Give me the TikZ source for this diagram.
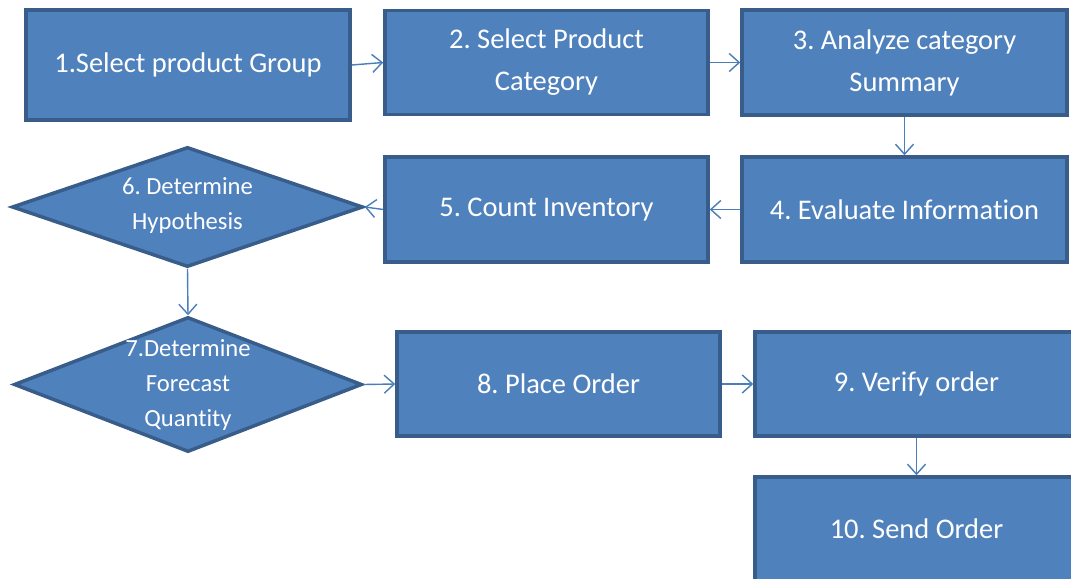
\documentclass[tikz,border=0pt]{standalone}
\usepackage{fontspec}
\setmainfont{Carlito}[Ligatures=NoCommon]
\usetikzlibrary{arrows.meta}
\usetikzlibrary{shapes.geometric}
\tikzset{>={Straight Barb[length=2mm,width=3.6mm]}}
\definecolor{flowblue}{RGB}{79,129,189}
\definecolor{flowedge}{RGB}{56,93,138}
\definecolor{flowarrow}{RGB}{74,126,187}
\tikzstyle{stepbox}=[rectangle,draw=flowedge,fill=flowblue,line width=2pt,minimum width=6.46cm,minimum height=2.08cm,inner sep=0pt,text=white,align=center,font=\fontsize{16.2}{23.9}\selectfont]
\tikzstyle{decision}=[diamond,draw=flowedge,fill=flowblue,line width=2pt,inner sep=0pt]
\tikzstyle{decisiontext}=[text=white,align=center,font=\fontsize{14}{19.9}\selectfont]
\tikzstyle{flowline}=[draw=flowarrow,line width=0.8pt,->]
\frenchspacing

\begin{document}
\begin{tikzpicture}
    \useasboundingbox (0,0) rectangle (21.42,-11.58);
    \clip (0,0) rectangle (21.42,-11.58);

    % top row
    \node[stepbox,minimum width=6.48cm,minimum height=2.2cm] (group) at (3.76,-1.30) {1.Select product Group};
    \node[stepbox] (category) at (10.93,-1.25) {2. Select Product\\Category};
    \node[stepbox,minimum width=6.5cm,minimum height=2.1cm] (summary) at (18.09,-1.25) {3. Analyze category\\Summary};

    % second row
    \node[stepbox,minimum width=6.5cm,minimum height=2.1cm] (evaluate) at (18.09,-4.19) {4. Evaluate Information};
    \node[stepbox,minimum height=2.1cm] (inventory) at (10.93,-4.19) {5. Count Inventory};
    \node[decision,minimum width=7.02cm,minimum height=2.4cm] (hypothesis) at (3.75,-4.14) {};
    \node[decisiontext] (hypotext) at (3.75,-4.12) {6. Determine\\Hypothesis};

    % third row
    \node[decision,minimum width=6.96cm,minimum height=2.7cm] (forecast) at (3.76,-7.69) {};
    \node[decisiontext] (forecasttext) at (3.76,-7.70) {7.Determine\\Forecast\\Quantity};
    \node[stepbox] (place) at (11.17,-7.68) {8. Place Order};
    \node[stepbox] (verify) at (18.33,-7.68) {9. Verify order};
    \node[stepbox] (send) at (18.33,-10.58) {10. Send Order};

    \draw[flowline] (group.east) -- (category.west);
    \draw[flowline] (category.east) -- (summary.west);
    \draw[flowline] (summary.south) -- (evaluate.north);
    \draw[flowline] (evaluate.west) -- (inventory.east);
    \draw[flowline] (inventory.west) -- (hypothesis.east);
    \draw[flowline] (hypothesis.south) -- (forecast.north);
    \draw[flowline] (forecast.east) -- (place.west);
    \draw[flowline] (place.east) -- (verify.west);
    \draw[flowline] (verify.south) -- (send.north);
\end{tikzpicture}
\end{document}
